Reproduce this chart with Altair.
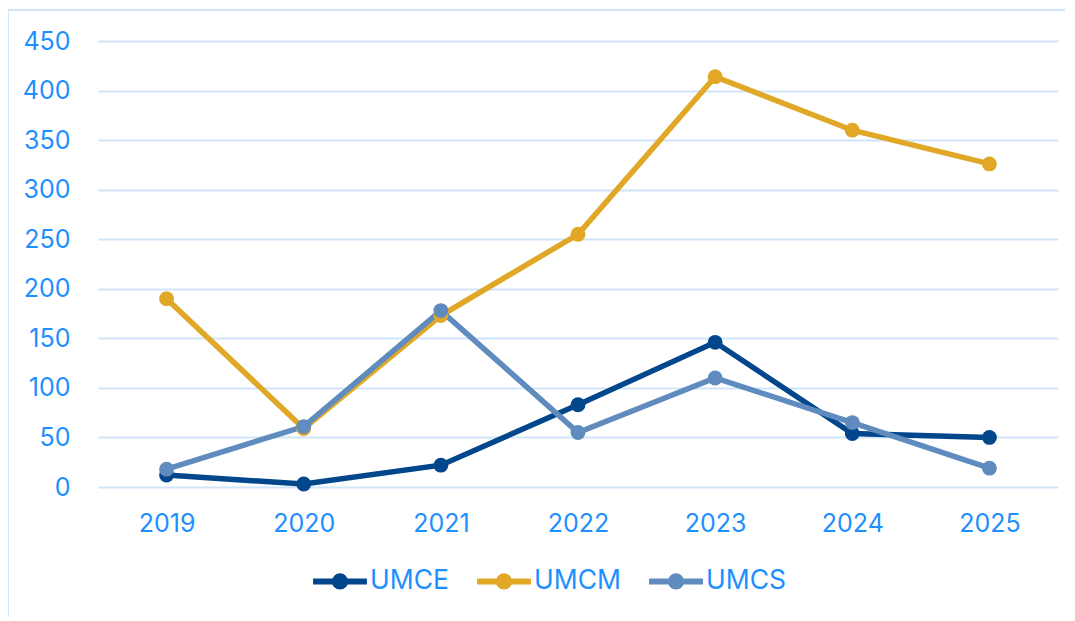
import altair as alt
import pandas as pd

years = ["2019", "2020", "2021", "2022", "2023", "2024", "2025"]
series_names = ["UMCE", "UMCM", "UMCS"]
umce = [12, 3, 22, 83, 146, 54, 50]
umcm = [190, 59, 173, 255, 414, 360, 326]
umcs = [18, 61, 178, 55, 110, 65, 19]
colors = ["#02468C", "#E1A726", "#5F8BBE"]

rows = []
for name, vals in zip(series_names, [umce, umcm, umcs]):
    for y, v in zip(years, vals):
        rows.append({"year": y, "series": name, "value": v})
df = pd.DataFrame(rows)

FONT = "Inter"
TXT = "#1E8FFF"
FS = 25

r = 0.19
sym = (f"M-1,0L1,0M{r},0A{r},{r},0,1,1,-{r},0A{r},{r},0,1,1,{r},0Z")

color = alt.Color(
    "series:N",
    scale=alt.Scale(domain=series_names, range=colors),
    legend=alt.Legend(
        title=None, orient="none", direction="horizontal",
        legendX=212, legendY=510,
        symbolType=sym, symbolSize=2900, symbolStrokeWidth=6,
        labelFont=FONT, labelFontSize=26.5, labelColor=TXT,
        columnPadding=16, labelOffset=0,
    ),
)

x = alt.X("year:N", sort=years, title=None,
          scale=alt.Scale(type="point", padding=0.5),
          axis=alt.Axis(labelAngle=0, domain=False, ticks=False, grid=False,
                        labelFont=FONT, labelFontSize=FS, labelColor=TXT,
                        labelPadding=24))
y = alt.Y("value:Q", title=None,
          scale=alt.Scale(domain=[0, 450], nice=False),
          axis=alt.Axis(values=list(range(0, 451, 50)), domain=False, ticks=False,
                        gridColor="#CFE6FA", gridWidth=2,
                        labelFont=FONT, labelFontSize=FS, labelColor=TXT,
                        labelPadding=28))

lines = alt.Chart(df).mark_line(strokeWidth=5.5, point=alt.OverlayMarkDef(filled=True, size=220, opacity=1)).encode(
    x=x, y=y, color=color, order=alt.Order("year:N")
)

border_top = alt.Chart(df).mark_rule(color="#CFE6FA", strokeWidth=2).encode(
    x=alt.value(-90), x2=alt.value(967), y=alt.value(-31)
)
border_left = alt.Chart(df).mark_rule(color="#CFE6FA", strokeWidth=2).encode(
    x=alt.value(-90), y=alt.value(-31), y2=alt.value(590)
)

chart = alt.layer(border_top, border_left, lines).properties(
    width=960, height=446,
    padding={"left": 90, "top": 33, "right": 9, "bottom": 130},
    autosize=alt.AutoSizeParams(type="none"),
    background="white",
).configure_view(stroke=None)

chart.save("out.html", embed_options={"renderer": "svg", "actions": False})
